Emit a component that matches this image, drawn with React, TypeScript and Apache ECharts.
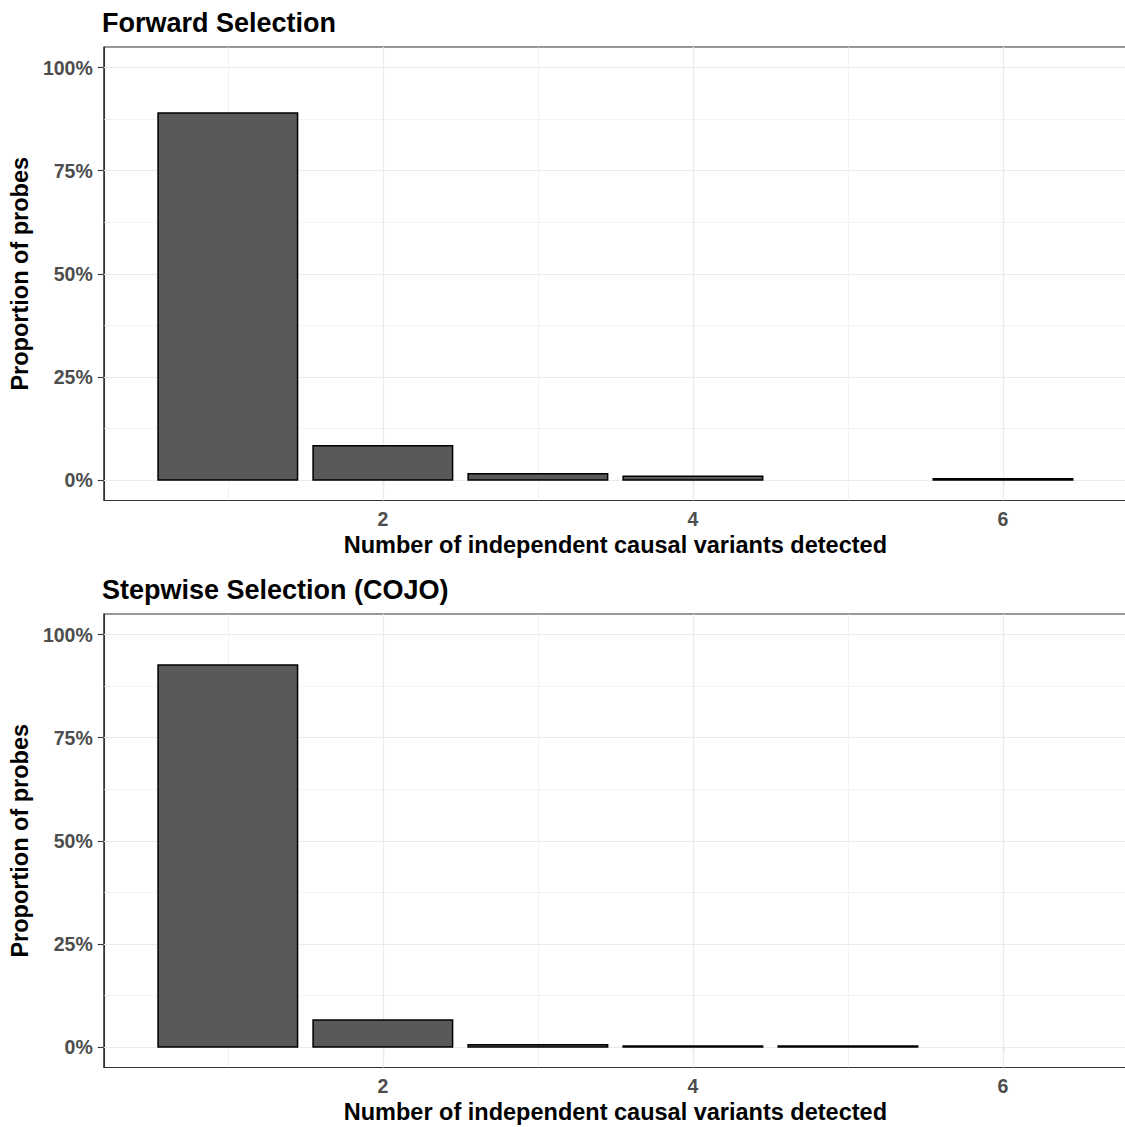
import React, { useEffect, useRef } from "react";
import * as echarts from "echarts";

const titles = ["Forward Selection", "Stepwise Selection (COJO)"];
const xLabel = "Number of independent causal variants detected";
const yLabel = "Proportion of probes";

const forwardX = [1, 2, 3, 4, 6];
const forwardY = [89.0, 8.3, 1.5, 0.9, 0.3];
const stepwiseX = [1, 2, 3, 4, 5];
const stepwiseY = [92.6, 6.5, 0.5, 0.2, 0.2];

const xTicks = [2, 4, 6];
const xMinor = [1, 3, 5];
const yTicks = [0, 25, 50, 75, 100];
const yMinor = [12.5, 37.5, 62.5, 87.5];

const FONT = "'Liberation Sans', Arial, Helvetica, sans-serif";

export default function App() {
  const ref = useRef<HTMLDivElement>(null);
  useEffect(() => {
    if (!ref.current) return;
    const chart = echarts.init(ref.current, null, { renderer: "svg" });
    const gridTops = [47, 614];
    const panels = [
      { xs: forwardX, ys: forwardY },
      { xs: stepwiseX, ys: stepwiseY },
    ];
    const grids = gridTops.map((t) => ({
      left: 102,
      top: t,
      width: 1025,
      height: 453.5,
      show: true,
      borderColor: "#333333",
      borderWidth: 1.1,
      backgroundColor: "transparent",
      containLabel: false,
    }));
    const xAxes = gridTops.map((_, i) => ({
      type: "value",
      gridIndex: i,
      min: 0.2,
      max: 6.8,
      name: xLabel,
      nameLocation: "middle",
      nameGap: 32,
      nameTextStyle: { fontFamily: FONT, fontSize: 23.5, fontWeight: "bold", color: "#000" },
      axisLine: { show: true, lineStyle: { color: "#333333", width: 1.1 } },
      axisTick: { show: true, length: 6, customValues: xTicks, lineStyle: { color: "#333333", width: 1.1 } },
      axisLabel: {
        show: true,
        customValues: xTicks,
        margin: 8,
        fontFamily: FONT,
        fontSize: 19.5,
        fontWeight: "bold",
        color: "#4D4D4D",
      },
      splitLine: { show: false },
      minorSplitLine: { show: false },
    }));
    const yAxes = gridTops.map((_, i) => ({
      type: "value",
      gridIndex: i,
      min: -5,
      max: 105,
      name: yLabel,
      nameLocation: "middle",
      nameGap: 63.5,
      nameRotate: 90,
      nameTextStyle: { fontFamily: FONT, fontSize: 23.5, fontWeight: "bold", color: "#000" },
      axisLine: { show: true, lineStyle: { color: "#333333", width: 1.1 } },
      axisTick: { show: true, length: 6, customValues: yTicks, lineStyle: { color: "#333333", width: 1.1 } },
      axisLabel: {
        show: true,
        customValues: yTicks,
        margin: 11,
        fontFamily: FONT,
        fontSize: 19.5,
        fontWeight: "bold",
        color: "#4D4D4D",
        formatter: (v: number) => `${v}%`,
      },
      splitLine: { show: false },
    }));

    const gridLineSeries = gridTops.map((_, i) => ({
      type: "line",
      xAxisIndex: i,
      yAxisIndex: i,
      data: [],
      silent: true,
      z: 1,
      markLine: {
        silent: true,
        z: 1,
        symbol: ["none", "none"],
        label: { show: false },
        animation: false,
        data: [
          ...xMinor.map((v) => ({ xAxis: v, lineStyle: { color: "#EBEBEB", width: 0.6, type: "solid" } })),
          ...yMinor.map((v) => ({ yAxis: v, lineStyle: { color: "#EBEBEB", width: 0.6, type: "solid" } })),
          ...xTicks.map((v) => ({ xAxis: v, lineStyle: { color: "#EBEBEB", width: 1.2, type: "solid" } })),
          ...yTicks.map((v) => ({ yAxis: v, lineStyle: { color: "#EBEBEB", width: 1.2, type: "solid" } })),
        ],
      },
    }));

    const barSeries = panels.map((p, i) => ({
      type: "custom",
      xAxisIndex: i,
      yAxisIndex: i,
      z: 5,
      data: p.xs.map((x, j) => [x, p.ys[j]]),
      renderItem: (params: any, api: any) => {
        const x = api.value(0);
        const y = api.value(1);
        const p0 = api.coord([x - 0.45, y]);
        const p1 = api.coord([x + 0.45, 0]);
        return {
          type: "rect",
          shape: { x: p0[0], y: p0[1], width: p1[0] - p0[0], height: p1[1] - p0[1] },
          style: { fill: "#595959", stroke: "#000000", lineWidth: 1.5 },
        };
      },
    }));

    chart.setOption({
      animation: false,
      backgroundColor: "#ffffff",
      title: titles.map((t, i) => ({
        text: t,
        left: 102,
        top: i === 0 ? 9.5 : 576.5,
        padding: 0,
        textStyle: { fontFamily: FONT, fontSize: 27, fontWeight: "bold", color: "#000" },
      })),
      grid: grids,
      xAxis: xAxes,
      yAxis: yAxes,
      series: [...gridLineSeries, ...barSeries],
    });
    return () => chart.dispose();
  }, []);
  return (
    <div style={{ position: "absolute", left: 0, top: 0, width: 1125, height: 1127, overflow: "hidden" }}>
      <div ref={ref} style={{ width: 1300, height: 1127 }} />
    </div>
  );
}
